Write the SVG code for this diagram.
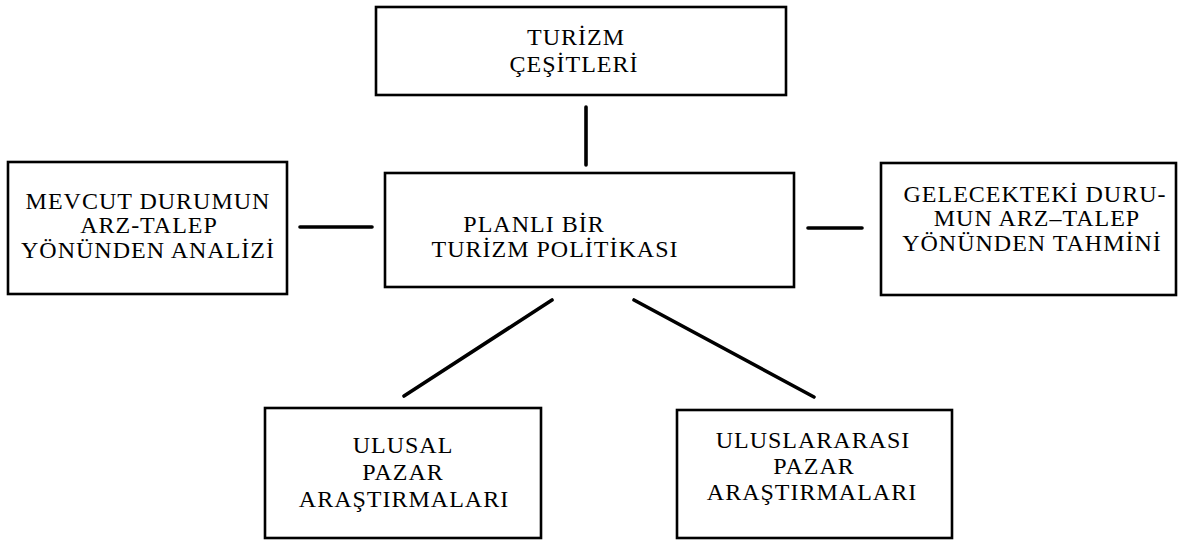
<svg xmlns="http://www.w3.org/2000/svg" width="1184" height="543" viewBox="0 0 1184 543">
<style>
.box{fill:#fff;stroke:#000;stroke-width:2.6}
.t{font-family:"Liberation Serif","DejaVu Serif",serif;font-size:24px;letter-spacing:1px;fill:#000;text-anchor:middle}
.c{stroke:#000;stroke-width:3.6;stroke-linecap:round;fill:none}
</style>
<rect width="1184" height="543" fill="#fff"/>
<g id="connectors">
<line class="c" x1="586" y1="107" x2="586" y2="165"/>
<line class="c" x1="300" y1="227" x2="372" y2="227"/>
<line class="c" x1="808" y1="228" x2="862" y2="228"/>
<line class="c" x1="552" y1="300" x2="404" y2="396"/>
<line class="c" x1="634" y1="300" x2="814" y2="397"/>
</g>
<g id="turizm-cesitleri">
<rect class="box" x="376" y="7" width="410" height="88"/>
<text class="t" x="576" y="45">TURİZM</text>
<text class="t" x="574" y="72">ÇEŞİTLERİ</text>
</g>
<g id="planli-politika">
<rect class="box" x="385" y="173" width="409" height="114"/>
<text class="t" x="534" y="232">PLANLI BİR</text>
<text class="t" x="555" y="257">TURİZM  POLİTİKASI</text>
</g>
<g id="mevcut-durum">
<rect class="box" x="8" y="162" width="279" height="132"/>
<text class="t" x="148" y="209">MEVCUT  DURUMUN</text>
<text class="t" x="149" y="233">ARZ-TALEP</text>
<text class="t" x="148" y="258">YÖNÜNDEN  ANALİZİ</text>
</g>
<g id="gelecek-durum">
<rect class="box" x="881" y="163" width="295" height="132"/>
<text class="t" x="1035" y="202">GELECEKTEKİ DURU-</text>
<text class="t" x="1037" y="226">MUN ARZ–TALEP</text>
<text class="t" x="1032" y="251">YÖNÜNDEN  TAHMİNİ</text>
</g>
<g id="ulusal-pazar">
<rect class="box" x="265" y="408" width="276" height="130"/>
<text class="t" x="403" y="453">ULUSAL</text>
<text class="t" x="403" y="480">PAZAR</text>
<text class="t" x="404" y="507">ARAŞTIRMALARI</text>
</g>
<g id="uluslararasi-pazar">
<rect class="box" x="677" y="410" width="275" height="128"/>
<text class="t" x="813" y="448">ULUSLARARASI</text>
<text class="t" x="814" y="474">PAZAR</text>
<text class="t" x="812" y="500">ARAŞTIRMALARI</text>
</g>
</svg>
